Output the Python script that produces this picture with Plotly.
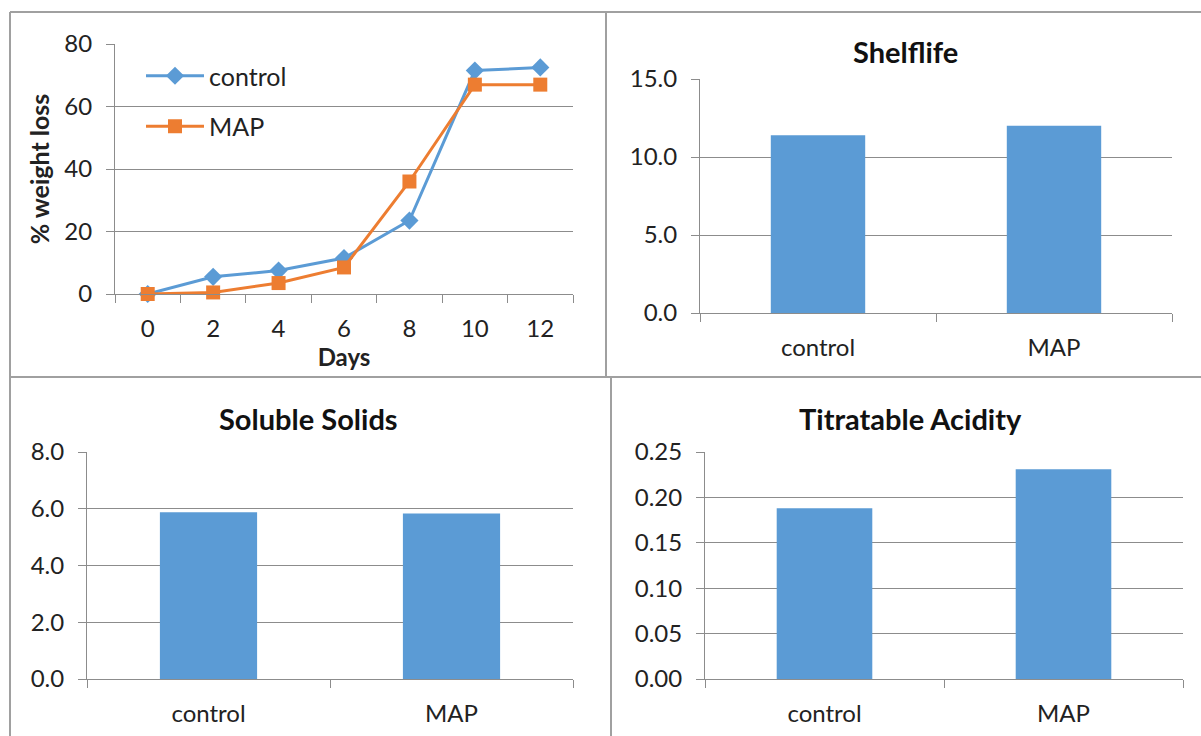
import plotly.graph_objects as go

W, H = 1201, 736

# Weight loss over storage time
days = ["0", "2", "4", "6", "8", "10", "12"]
control_loss = [0, 5.5, 7.5, 11.5, 23.5, 71.5, 72.5]
map_loss = [0, 0.5, 3.5, 8.5, 36.0, 67.0, 67.0]

# Quality attributes per treatment
treatments = ["control", "MAP"]
shelflife = [11.4, 12.0]
soluble_solids = [5.88, 5.83]
titratable_acidity = [0.188, 0.231]

BLUE = "#5B9BD5"
ORANGE = "#ED7D31"
GRID = "#8c8c8c"
FRAME = "#a0a0a0"
FONT = "Lato"
TICK_SIZE = 24


def px(x):
    return x / W


def py(y):
    return 1 - y / H


fig = go.Figure()

fig.add_trace(go.Scatter(
    x=days, y=control_loss, name="control", mode="lines+markers",
    line=dict(color=BLUE, width=3), marker=dict(symbol="diamond", size=14, color=BLUE),
    xaxis="x", yaxis="y", legendgroup="c", cliponaxis=False))
fig.add_trace(go.Scatter(
    x=days, y=map_loss, name="MAP", mode="lines+markers",
    line=dict(color=ORANGE, width=3), marker=dict(symbol="square", size=14, color=ORANGE),
    xaxis="x", yaxis="y", legendgroup="m", cliponaxis=False))

for vals, xa, ya in [(shelflife, "x2", "y2"), (soluble_solids, "x3", "y3"),
                     (titratable_acidity, "x4", "y4")]:
    fig.add_trace(go.Bar(x=treatments, y=vals, marker=dict(color=BLUE, line=dict(width=0)),
                         width=0.4, xaxis=xa, yaxis=ya, showlegend=False))


def xaxis(domain, n):
    return dict(domain=[px(domain[0]), px(domain[1])], type="category", automargin=False,
                range=[-0.5, n - 0.5], showline=True, linecolor=GRID, linewidth=1,
                ticks="outside", tickson="boundaries", ticklen=8, tickcolor=GRID,
                showgrid=False, tickfont=dict(family=FONT, size=TICK_SIZE, color="#222"),
                ticklabelstandoff=13, fixedrange=True)


def yaxis(domain, anchor, rng, dtick, fmt):
    return dict(domain=[py(domain[1]), py(domain[0])], anchor=anchor, range=rng,
                automargin=False, dtick=dtick, tickformat=fmt, showline=True,
                linecolor=GRID, linewidth=1, ticks="outside", ticklen=8, tickcolor=GRID,
                showgrid=True, gridcolor=GRID, gridwidth=1, zeroline=False,
                tickfont=dict(family=FONT, size=TICK_SIZE, color="#222"),
                ticklabelstandoff=9, fixedrange=True)


layout = dict(
    template="none",
    width=W, height=H, margin=dict(l=0, r=0, t=0, b=0, autoexpand=False),
    paper_bgcolor="white", plot_bgcolor="white",
    font=dict(family=FONT, color="#222"),
    showlegend=True,
    legend=dict(x=px(141), y=py(53), xanchor="left", yanchor="top",
                bgcolor="rgba(0,0,0,0)", borderwidth=0,
                font=dict(family=FONT, size=25, color="#222"),
                traceorder="grouped", tracegroupgap=15, itemwidth=58),
    xaxis=dict(xaxis((115, 573), 7), anchor="y",
               title=dict(text="<b>Days</b>", font=dict(family=FONT, size=24), standoff=2)),
    yaxis=dict(yaxis((44, 294), "x", [0, 80], 20, "d"),
               title=dict(text="<b>% weight loss</b>", font=dict(family=FONT, size=25), standoff=7)),
    xaxis2=dict(xaxis((700, 1172), 2), anchor="y2"),
    yaxis2=yaxis((79, 313), "x2", [0, 15], 5, ".1f"),
    xaxis3=dict(xaxis((87, 573), 2), anchor="y3"),
    yaxis3=yaxis((452, 679), "x3", [0, 8], 2, ".1f"),
    xaxis4=dict(xaxis((705, 1183), 2), anchor="y4"),
    yaxis4=yaxis((452, 679), "x4", [0, 0.25], 0.05, ".2f"),
)
fig.update_layout(**layout)

titles = [("Shelflife", 905, 52), ("Soluble Solids", 308, 418), ("Titratable Acidity", 910, 418)]
for text, x, y in titles:
    fig.add_annotation(text=f"<b>{text}</b>", x=px(x), y=py(y), xref="paper", yref="paper",
                       showarrow=False, xanchor="center", yanchor="middle",
                       font=dict(family=FONT, size=29, color="#111"))

# Panel frames
frame_lines = [
    (10, 12, 1201, 12),
    (10, 377, 1201, 377),
    (10, 12, 10, 736),
    (606, 12, 606, 377),
    (611, 377, 611, 736),
]
for x0, y0, x1, y1 in frame_lines:
    fig.add_shape(type="line", xref="paper", yref="paper",
                  x0=px(x0), y0=py(y0), x1=px(x1), y1=py(y1),
                  line=dict(color=FRAME, width=2))

fig.write_html("out.html")
